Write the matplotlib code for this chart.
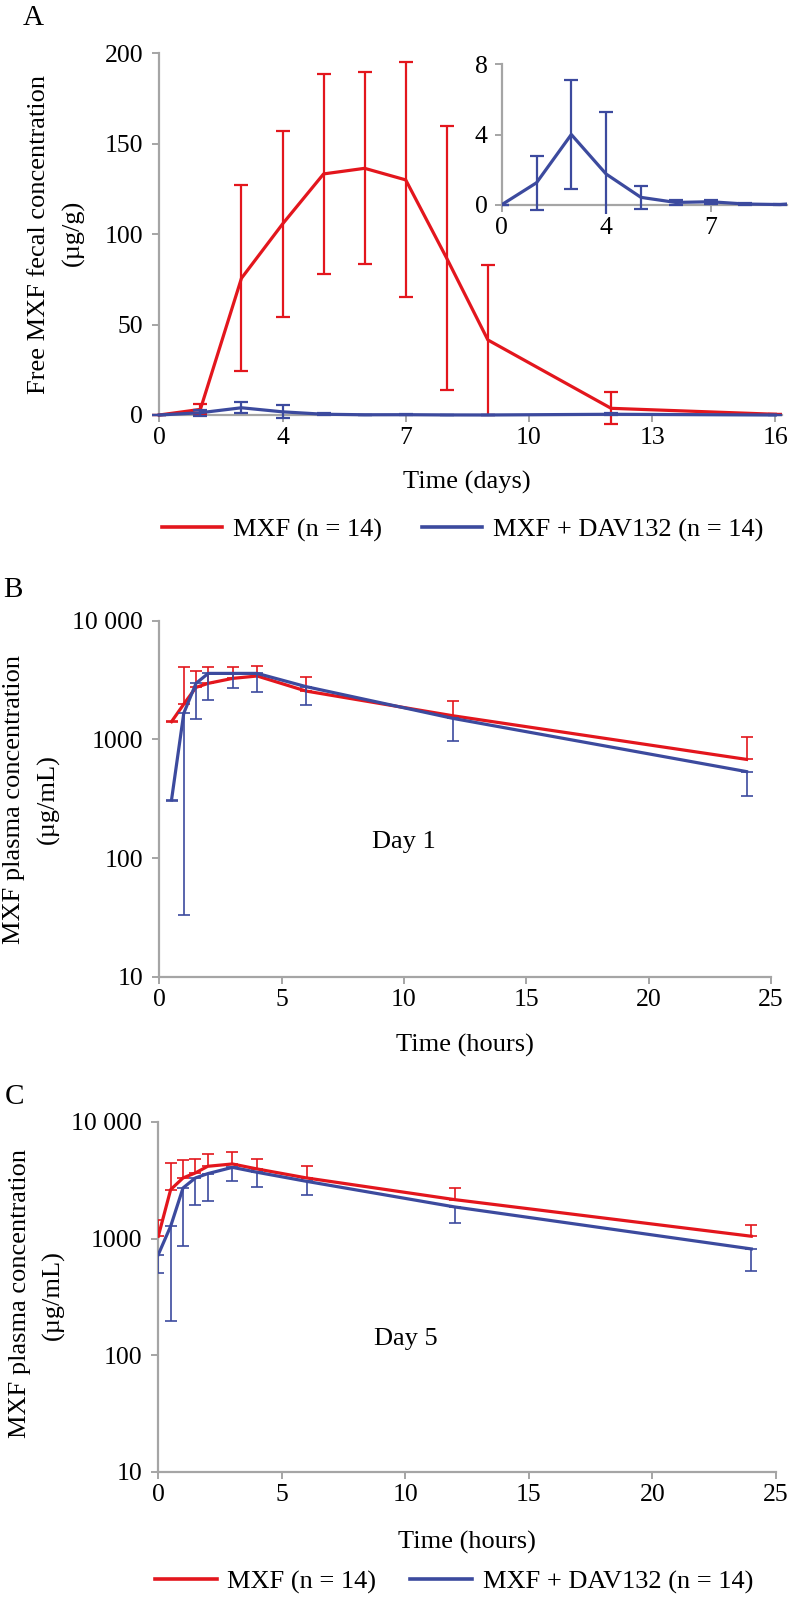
import numpy as np
import matplotlib
matplotlib.use("Agg")
import matplotlib.pyplot as plt
from matplotlib.lines import Line2D

plt.rcParams['font.family'] = ['Liberation Serif', 'DejaVu Serif']

# ---- panel A: free MXF in feces (category axis of sampling days) ----
days = [0, 2, 3, 4, 5, 6, 7, 8, 9, 10, 11, 12, 13, 14, 15, 16]
fecal_days = [0, 2, 3, 4, 5, 6, 7, 8, 9, 12, 16]
fecal_mxf = [0, 3.1, 75.6, 105.6, 133.3, 136.4, 130.0, 86.6, 41.5, 3.7, 0.4]
fecal_mxf_sd = [0, 2.8, 51.5, 51.5, 55.5, 53.0, 65.0, 73.0, 41.5, 8.8, 0]
fecal_dav = [0, 1.25, 4.0, 1.75, 0.42, 0.13, 0.17, 0.04, 0.01, 0.4, 0]
fecal_dav_sd = [0, 1.55, 3.1, 3.55, 0.64, 0.12, 0.12, 0.03, 0.01, 0.5, 0]
day_ticks = [0, 4, 7, 10, 13, 16]
inset_ticks = [0, 4, 7]

# ---- panel B: plasma, day 1 ----
d1_hours = [0.5, 1, 1.5, 2, 3, 4, 6, 12, 24]
d1_mxf = [1410, 1980, 2742, 2966, 3266, 3420, 2553, 1581, 678]
d1_mxf_sd = [20, 2110, 1025, 1080, 780, 730, 820, 523, 374]
d1_dav = [309, 1660, 2966, 3597, 3597, 3597, 2781, 1503, 535]
d1_dav_sd = [5, 1627, 1483, 1454, 873, 1109, 834, 535, 200]

# ---- panel C: plasma, day 5 ----
d5_hours = [0, 0.5, 1, 1.5, 2, 3, 4, 6, 12, 24]
d5_mxf = [1047, 2630, 3311, 3656, 4169, 4365, 3954, 3311, 2158, 1047]
d5_mxf_sd = [408, 1825, 1445, 1164, 1149, 1169, 898, 858, 558, 271]
d5_dav = [729, 1276, 2716, 3311, 3606, 4083, 3704, 3097, 1867, 815]
d5_dav_sd = [221, 1078, 1857, 1357, 1518, 942, 950, 715, 506, 290]

log_ticks = [10, 100, 1000, 10000]
log_labels = ['10', '100', '1000', '10 000']
hour_ticks = [0, 5, 10, 15, 20, 25]

RED = '#E3161D'
BLUE = '#3C4A9E'
GRAY = '#A5A5A5'
FS = 19
TFS = 18.5

W, H = 790, 1599
fig = plt.figure(figsize=(W / 100, H / 100), dpi=100)
fig.patch.set_facecolor('white')


def box(l, t, r, b):
    return [l / W, 1 - b / H, (r - l) / W, (b - t) / H]


def style(ax):
    for s in ['top', 'right']:
        ax.spines[s].set_visible(False)
    for s in ['left', 'bottom']:
        ax.spines[s].set_color(GRAY)
        ax.spines[s].set_linewidth(1.6)
    ax.tick_params(axis='both', direction='out', length=5, width=1.4,
                   color=GRAY, labelsize=TFS, labelcolor='black')
    ax.tick_params(axis='y', pad=6.5)
    ax.tick_params(axis='x', pad=4)
    ax.set_facecolor('none')


xpos = [days.index(d) for d in fecal_days]

# ---- A main ----
axA = fig.add_axes(box(159.3, 53.3, 159.3 + 15.15 * 41.07, 415))
style(axA)
axA.errorbar(xpos, fecal_mxf, yerr=fecal_mxf_sd, color=RED, lw=2.3,
             elinewidth=1.6, capsize=4.7, capthick=1.6, clip_on=False, zorder=3)
axA.errorbar(xpos, fecal_dav, yerr=fecal_dav_sd, color=BLUE, lw=2.3,
             elinewidth=1.6, capsize=4.7, capthick=1.6, clip_on=False, zorder=4)
axA.set_xlim(0, 15.15)
axA.set_ylim(0, 200)
axA.set_yticks([0, 50, 100, 150, 200])
axA.set_xticks([days.index(d) for d in day_ticks])
axA.set_xticklabels([str(d) for d in day_ticks])

# ---- A inset ----
axI = fig.add_axes(box(501.7, 64.3, 501.7 + 8.2 * 34.8, 213.5))
style(axI)
axI.spines['bottom'].set_position(('data', 0))
axI.spines['left'].set_bounds(0, 8)
axI.errorbar(xpos, fecal_dav, yerr=fecal_dav_sd, color=BLUE, lw=2.3,
             elinewidth=1.6, capsize=4.7, capthick=1.6, zorder=4)
axI.set_xlim(0, 8.2)
axI.set_ylim(-0.5, 8)
axI.set_yticks([0, 4, 8])
axI.set_xticks([days.index(d) for d in inset_ticks])
axI.set_xticklabels([str(d) for d in inset_ticks])
axI.tick_params(axis='y', pad=5)


def pk_panel(rect, hours, mxf, mxf_sd, dav, dav_sd, day_text):
    ax = fig.add_axes(rect)
    style(ax)
    ax.set_yscale('log')
    z = np.zeros(len(mxf_sd))
    ax.errorbar(hours, mxf, yerr=[z, mxf_sd], color=RED, lw=2.3,
                elinewidth=1.2, capsize=4, capthick=1.2, zorder=3)
    z = np.zeros(len(dav_sd))
    ax.errorbar(hours, dav, yerr=[dav_sd, z], color=BLUE, lw=2.3,
                elinewidth=1.2, capsize=4, capthick=1.2, zorder=4)
    ax.set_xlim(0, 25)
    ax.set_ylim(10, 10000)
    ax.set_yticks(log_ticks)
    ax.set_yticklabels(log_labels)
    ax.minorticks_off()
    ax.set_xticks(hour_ticks)
    ax.set_xticklabels([str(h) for h in hour_ticks])
    ax.text(10, 137, day_text, ha='center', va='center', fontsize=FS)
    return ax


pk_panel(box(159.3, 620.7, 771, 976.7), d1_hours, d1_mxf, d1_mxf_sd,
         d1_dav, d1_dav_sd, 'Day 1')
pk_panel(box(158.3, 1122.0, 776, 1471.7), d5_hours, d5_mxf, d5_mxf_sd,
         d5_dav, d5_dav_sd, 'Day 5')


def ftext(x, y, s, size=FS, **kw):
    fig.text(x / W, 1 - y / H, s, ha='center', va='center', fontsize=size, **kw)


ftext(33, 18, 'A', size=21)
ftext(13, 590, 'B', size=21)
ftext(14, 1097, 'C', size=21)

ftext(39, 234, 'Free MXF fecal concentration', rotation=90)
ftext(73, 233, '(µg/g)', rotation=90)
ftext(14, 799, 'MXF plasma concentration', rotation=90)
ftext(48, 799, '(µg/mL)', rotation=90)
ftext(20, 1294, 'MXF plasma concentration', rotation=90)
ftext(53, 1295, '(µg/mL)', rotation=90)

ftext(467, 482, 'Time (days)')
ftext(465, 1045, 'Time (hours)')
ftext(467, 1542, 'Time (hours)')

handles = [Line2D([], [], color=RED, lw=2.6), Line2D([], [], color=BLUE, lw=2.6)]
labels = ['MXF (n = 14)', 'MXF + DAV132 (n = 14)']
fig.legend(handles, labels, loc='center', bbox_to_anchor=(462.5 / W, 1 - 530 / H),
           ncol=2, frameon=False, fontsize=FS, handlelength=2.3,
           handletextpad=0.4, columnspacing=1.5)
fig.legend(handles, labels, loc='center', bbox_to_anchor=(454 / W, 1 - 1582 / H),
           ncol=2, frameon=False, fontsize=FS, handlelength=2.35,
           handletextpad=0.4, columnspacing=1.3)

fig.savefig('out.png', dpi=100, facecolor='white')
